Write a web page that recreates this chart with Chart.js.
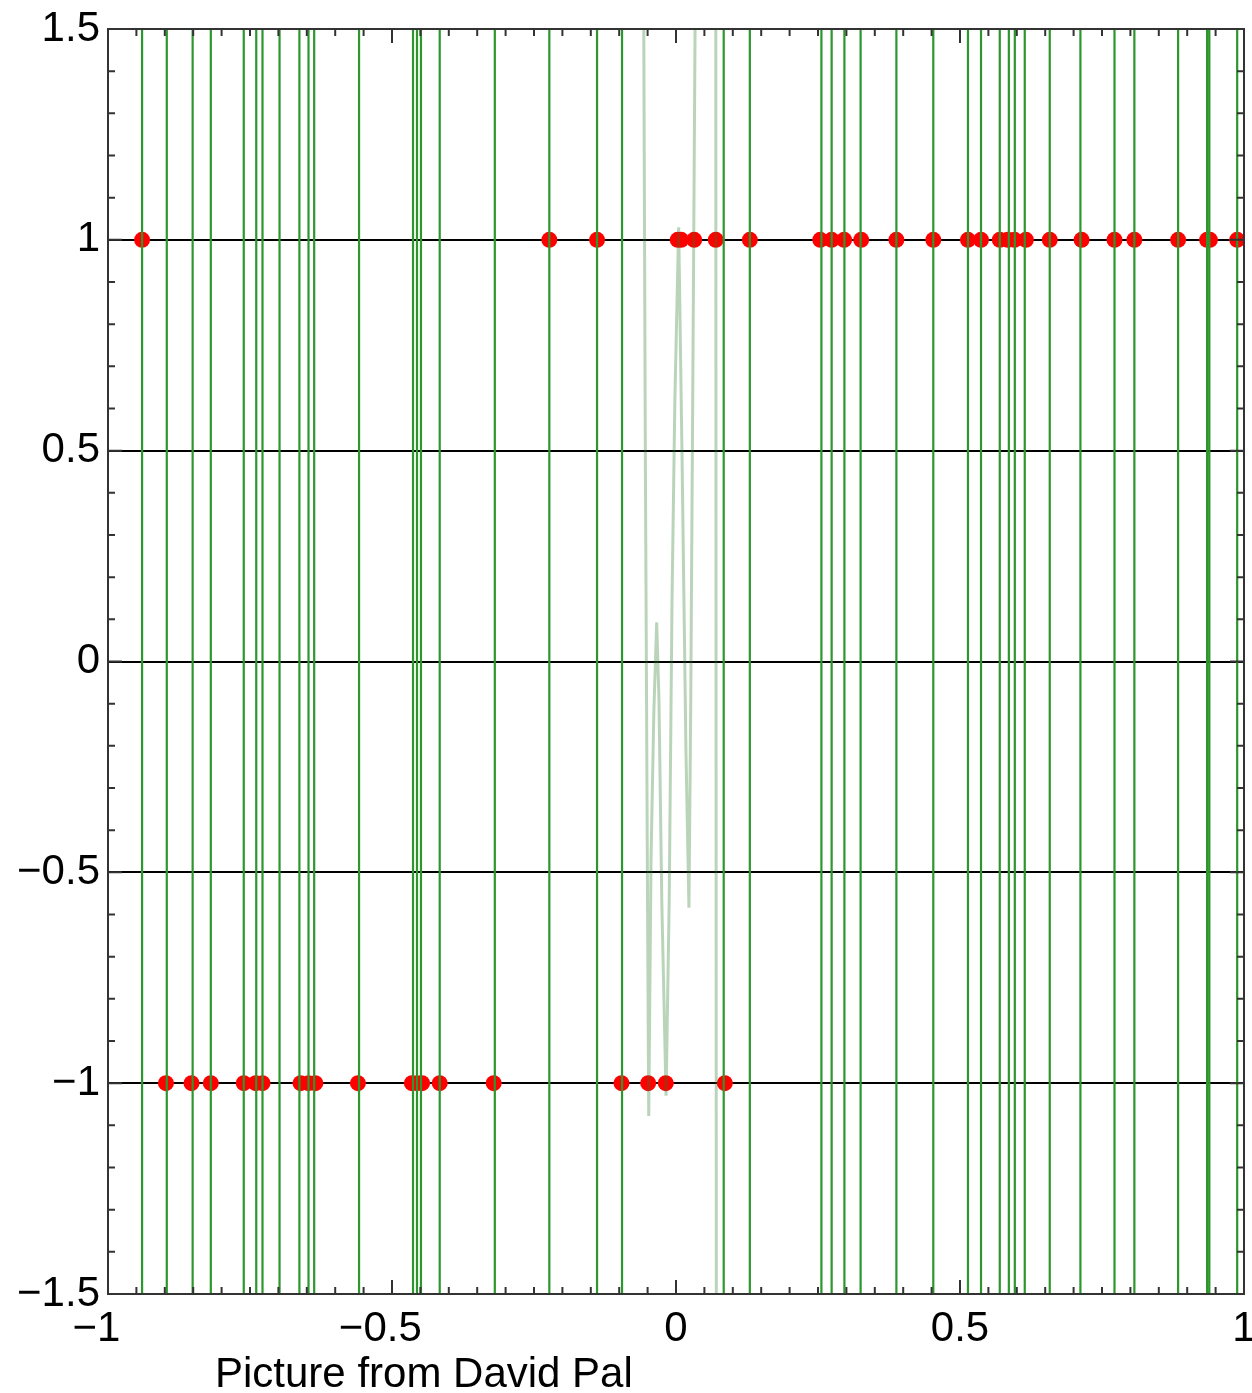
<!DOCTYPE html>
<html>
<head>
<meta charset="utf-8">
<script src="https://cdn.jsdelivr.net/npm/chart.js@4.4.1/dist/chart.umd.min.js"></script>
<style>
  html, body { margin: 0; padding: 0; background: #fff; }
  #wrap { position: relative; width: 1252px; height: 1393px; }
  #credit {
    position: absolute; left: 215px; top: 1352px;
    font: 42px "Liberation Sans", Arial, sans-serif; line-height: 42px;
    color: #000; white-space: nowrap;
  }
</style>
</head>
<body>
<div id="wrap">
  <canvas id="chart" width="1252" height="1393"></canvas>
  <div id="credit">Picture from David Pal</div>
</div>
<script>
// red sample points sitting on y = 1
const upperX = [-0.940, -0.223, -0.139, 0.003, 0.009, 0.032, 0.070, 0.130, 0.254, 0.274,
  0.296, 0.326, 0.388, 0.453, 0.514, 0.537, 0.570, 0.584, 0.596, 0.616,
  0.658, 0.714, 0.772, 0.807, 0.884, 0.935, 0.940, 0.988];
// red sample points sitting on y = -1
const lowerX = [-0.898, -0.853, -0.819, -0.761, -0.740, -0.728, -0.661, -0.647, -0.635, -0.560,
  -0.465, -0.456, -0.447, -0.416, -0.321, -0.096, -0.049, -0.018, 0.086];
// steep branches of the interpolant (look like vertical green lines)
const lineX = [-0.940, -0.8965, -0.851, -0.819, -0.761, -0.739, -0.728, -0.698, -0.663, -0.647,
  -0.637, -0.558, -0.463, -0.456, -0.449, -0.416, -0.319, -0.223, -0.139, -0.095,
  0.084, 0.130, 0.256, 0.274, 0.2965, 0.325, 0.388, 0.453, 0.514, 0.537,
  0.570, 0.586, 0.5965, 0.614, 0.658, 0.712, 0.772, 0.807, 0.884, 0.935, 0.939, 0.988];
// the visible, faint part of the interpolant near 0
const curveX = [-0.057, -0.054, -0.050, -0.048, -0.044, -0.039, -0.034, -0.030, -0.025, -0.0175,
  -0.012, -0.007, -0.002, 0.0047, 0.0105, 0.0175, 0.0228, 0.026, 0.030, 0.034, 0.070, 0.071];
const curveY = [1.6, 0.5, -0.6, -1.078, -0.47, -0.12, 0.093, -0.09, -0.57, -1.03,
  -0.57, 0.145, 0.62, 1.03, 0.50, -0.21, -0.584, -0.09, 0.74, 1.6, 1.6, -1.6];

const xLabels = [-1, -0.5, 0, 0.5, 1];
const yLabels = [-1.5, -1, -0.5, 0, 0.5, 1, 1.5];
const yGrid = [-1, -0.5, 0, 0.5, 1];

const FONT = { family: '"Liberation Sans", Arial, sans-serif', size: 42 };
const r2 = v => Math.round(v * 100) / 100;
const num = v => (v < 0 ? '\u2212' : '') + String(Math.abs(r2(v)));

// green lines: each x goes from below to above the plot, gaps between them
const lineData = [];
lineX.forEach(x => {
  lineData.push({ x: x, y: -2 }, { x: x, y: 2 }, { x: x, y: null });
});

// inward tick marks and frame, placed with the chart's own scales
const frameTicks = {
  id: 'frameTicks',
  afterDraw(chart) {
    const { ctx, chartArea: a, scales: { x, y } } = chart;
    ctx.save();
    ctx.strokeStyle = '#333';
    ctx.lineWidth = 2;
    ctx.beginPath();
    x.ticks.forEach(t => {
      const px = x.getPixelForValue(t.value);
      const len = xLabels.includes(r2(t.value)) ? 14 : 7;
      ctx.moveTo(px, a.bottom); ctx.lineTo(px, a.bottom - len);
      ctx.moveTo(px, a.top); ctx.lineTo(px, a.top + len);
    });
    y.ticks.forEach(t => {
      const py = y.getPixelForValue(t.value);
      const len = yLabels.includes(r2(t.value)) ? 14 : 7;
      ctx.moveTo(a.left, py); ctx.lineTo(a.left + len, py);
      ctx.moveTo(a.right, py); ctx.lineTo(a.right - len, py);
    });
    ctx.stroke();
    ctx.strokeRect(a.left, a.top, a.right - a.left, a.bottom - a.top);
    ctx.restore();
  }
};

new Chart(document.getElementById('chart'), {
  type: 'scatter',
  data: {
    datasets: [
      {
        data: lineData,
        showLine: true,
        borderColor: 'rgb(45,150,45)',
        borderWidth: 2.2,
        pointRadius: 0,
        clip: 0
      },
      {
        data: curveX.map((x, i) => ({ x: x, y: curveY[i] })),
        showLine: true,
        borderColor: 'rgba(40,120,40,0.32)',
        borderWidth: 3,
        pointRadius: 0,
        clip: 0
      },
      {
        data: upperX.map(x => ({ x: x, y: 1 })).concat(lowerX.map(x => ({ x: x, y: -1 }))),
        pointRadius: 8,
        pointBackgroundColor: '#ff0000',
        pointBorderWidth: 0,
        clip: 0
      }
    ]
  },
  options: {
    responsive: false,
    animation: false,
    layout: { padding: { top: 29, right: 4, left: 0, bottom: 0 } },
    plugins: { legend: { display: false }, tooltip: { enabled: false } },
    scales: {
      x: {
        type: 'linear', min: -1, max: 1,
        grid: { display: false },
        border: { display: false },
        ticks: {
          stepSize: 0.05, autoSkip: false, maxRotation: 0, padding: 2,
          color: '#000', font: FONT,
          callback: v => xLabels.includes(r2(v)) ? num(v) + (v < 0 ? '  ' : '') : ''
        },
        afterFit: s => { s.height = 99; s.paddingLeft = 0; s.paddingRight = 0; }
      },
      y: {
        type: 'linear', min: -1.5, max: 1.5,
        grid: {
          drawTicks: false,
          color: c => yGrid.includes(r2(c.tick.value)) ? '#000' : 'rgba(0,0,0,0)',
          lineWidth: 2
        },
        border: { display: false },
        ticks: {
          stepSize: 0.1, autoSkip: false, padding: 8,
          color: '#000', font: FONT,
          callback: v => yLabels.includes(r2(v)) ? num(v) : ''
        },
        afterFit: s => { s.width = 108; s.paddingTop = 0; s.paddingBottom = 0; }
      }
    }
  },
  plugins: [frameTicks]
});
</script>
</body>
</html>
